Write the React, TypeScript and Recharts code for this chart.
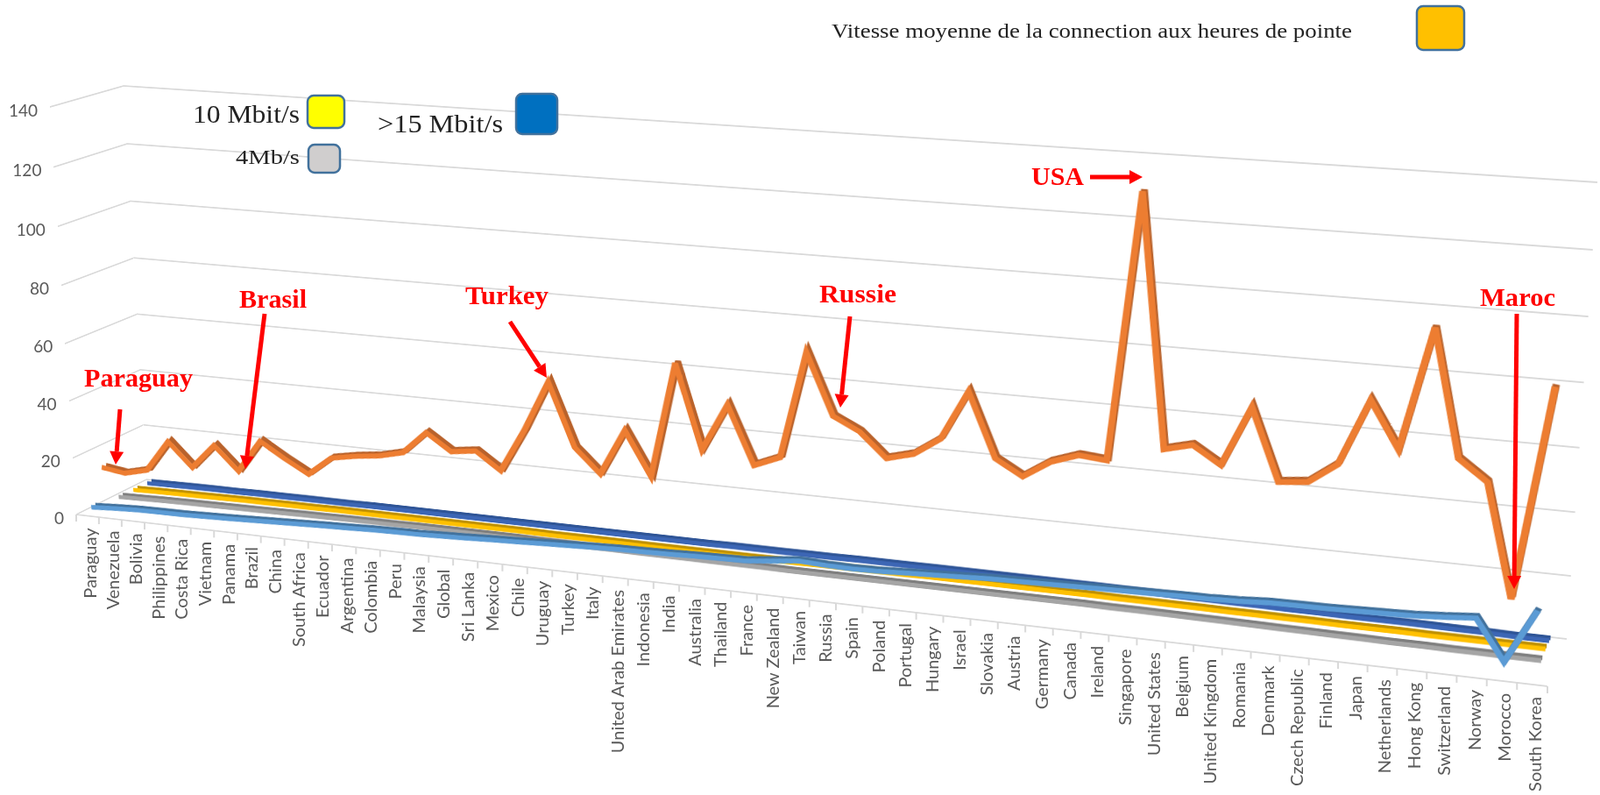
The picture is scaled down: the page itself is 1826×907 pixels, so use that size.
import { CartesianGrid, Line, LineChart, ReferenceLine, XAxis, YAxis } from "recharts";

const countries = [
  "Paraguay", "Venezuela", "Bolivia", "Philippines", "Costa Rica", "Vietnam", "Panama", "Brazil",
  "China", "South Africa", "Ecuador", "Argentina", "Colombia", "Peru", "Malaysia", "Global",
  "Sri Lanka", "Mexico", "Chile", "Uruguay", "Turkey", "Italy", "United Arab Emirates", "Indonesia",
  "India", "Australia", "Thailand", "France", "New Zealand", "Taiwan", "Russia", "Spain",
  "Poland", "Portugal", "Hungary", "Israel", "Slovakia", "Austria", "Germany", "Canada",
  "Ireland", "Singapore", "United States", "Belgium", "United Kingdom", "Romania", "Denmark", "Czech Republic",
  "Finland", "Japan", "Netherlands", "Hong Kong", "Switzerland", "Norway", "Morocco", "South Korea",
];

const peakSpeed = [
  14.3, 13.1, 15.1, 26, 17.8, 26.4, 18.3, 29.6, 24.5, 19.9, 26.4, 27.9, 28.9, 30.9, 38.6, 33,
  34.1, 28.3, 42.9, 59.8, 38.8, 30.8, 46.2, 31.7, 70, 42.4, 58, 39, 42.5, 77.4, 57.7, 53.5,
  45.7, 48, 53.8, 69.7, 49.2, 44.3, 49.9, 52.9, 52.1, 136, 57.4, 59.6, 54.2, 73, 50.7, 51.6,
  58, 78.5, 64.3, 102, 63.3, 57, 22, 87.5,
];
const avgSpeed = [
  2.3, 2.8, 3.2, 3.3, 3.4, 3.6, 3.9, 4.2, 4.5, 4.8, 5.1, 5.4, 5.7, 5.9, 6, 6.3,
  6.6, 7, 7.3, 7.7, 8, 8.4, 8.7, 8.8, 9, 9.3, 9.5, 9.7, 10.6, 11.6, 11.2, 11,
  11.2, 11.6, 12, 12.4, 12.8, 13, 13.2, 13.4, 13.6, 13.8, 14, 14.2, 14.3, 14.6, 15.2, 15.3,
  15.4, 15.6, 15.9, 16.2, 16.8, 17.6, 5, 22,
];
const above4 = [
  1.1, 1.3, 1.5, 1.6, 1.7, 1.8, 1.9, 2, 2.1, 2.2, 2.3, 2.4, 2.4, 2.5, 2.5, 2.5,
  2.5, 2.5, 2.4, 2.4, 2.3, 2.3, 2.2, 2.2, 2.2, 2.1, 2.1, 2.1, 2, 2, 2, 2,
  2, 2, 2, 2, 2, 2, 2, 2, 1.9, 1.9, 1.8, 1.7, 1.6, 1.5, 1.4, 1.3,
  1.2, 1.1, 1, 1, 0.9, 0.9, 0.8, 0.8,
];
const above10 = [
  1, 1.2, 1.3, 1.4, 1.5, 1.6, 1.6, 1.7, 1.7, 1.8, 1.8, 1.8, 1.8, 1.8, 1.8, 1.8,
  1.8, 1.8, 1.7, 1.7, 1.7, 1.7, 1.6, 1.6, 1.6, 1.6, 1.6, 1.7, 1.7, 1.8, 1.8, 1.9,
  1.9, 2, 2, 2, 2, 2, 2, 2, 1.9, 1.9, 1.8, 1.8, 1.7, 1.7, 1.6, 1.6,
  1.5, 1.5, 1.5, 1.4, 1.4, 1.4, 1.4, 1.4,
];
const above15 = [
  0.9, 1, 1.1, 1.2, 1.2, 1.3, 1.3, 1.4, 1.4, 1.4, 1.5, 1.5, 1.5, 1.5, 1.5, 1.5,
  1.5, 1.5, 1.5, 1.5, 1.5, 1.5, 1.5, 1.5, 1.5, 1.6, 1.6, 1.6, 1.7, 1.7, 1.8, 1.8,
  1.8, 1.9, 1.9, 1.9, 1.9, 1.9, 1.9, 1.9, 1.8, 1.8, 1.7, 1.7, 1.6, 1.6, 1.5, 1.5,
  1.4, 1.4, 1.4, 1.3, 1.2, 1.2, 1, 1,
];
const valueTicks = [0, 20, 40, 60, 80, 100, 120, 140];

const PAGE_W = 1826;
const PAGE_H = 907;
const W = 1680;
const H = 560;
const M = 20;
const BAND = W / countries.length;
const FONT = "Lato, 'Open Sans', sans-serif";
const SERIF = "'Liberation Serif', serif";
const GRID = "#d9d9d9";

type Pt = [number, number];
// corners: top-left, top-right, bottom-right, bottom-left
const frontWall: Pt[] = [[57, 122], [1801, 248], [1766, 783], [87, 587]];
const backWall: Pt[] = [[141, 98], [1823, 208], [1788, 729], [167, 547]];
const sideWall: Pt[] = [frontWall[0], backWall[0], backWall[3], frontWall[3]];

const plane = (d: number): Pt[] =>
  frontWall.map((p, i) => [p[0] + (backWall[i][0] - p[0]) * d, p[1] + (backWall[i][1] - p[1]) * d] as Pt);

// square to quad homography
function homography(q: Pt[]) {
  const [[x0, y0], [x1, y1], [x2, y2], [x3, y3]] = q;
  const dx1 = x1 - x2, dx2 = x3 - x2, sx = x0 - x1 + x2 - x3;
  const dy1 = y1 - y2, dy2 = y3 - y2, sy = y0 - y1 + y2 - y3;
  const den = dx1 * dy2 - dx2 * dy1;
  const g = (sx * dy2 - dx2 * sy) / den;
  const h = (dx1 * sy - sx * dy1) / den;
  return {
    a: x1 - x0 + g * x1, b: x3 - x0 + h * x3, c: x0,
    d: y1 - y0 + g * y1, e: y3 - y0 + h * y3, f: y0,
    g, h,
  };
}

function project(q: Pt[], x: number, y: number): Pt {
  const m = homography(q);
  const u = x / W, v = y / H;
  const w = m.g * u + m.h * v + 1;
  return [(m.a * u + m.b * v + m.c) / w, (m.d * u + m.e * v + m.f) / w];
}

function cssMatrix(q: Pt[]) {
  const m = homography(q);
  const vals = [m.a / W, m.d / W, 0, m.g / W, m.b / H, m.e / H, 0, m.h / H, 0, 0, 1, 0, m.c, m.f, 0, 1];
  return `matrix3d(${vals.join(",")}) translate(${-M}px, ${-M}px)`;
}

const rows = countries.map((name, i) => ({
  name,
  peak: peakSpeed[i],
  avg: avgSpeed[i],
  a4: above4[i],
  a10: above10[i],
  a15: above15[i],
}));

function Layer({ quad, children }: { quad: Pt[]; children: React.ReactNode }) {
  return (
    <div style={{ position: "absolute", left: 0, top: 0, transformOrigin: "0 0", transform: cssMatrix(quad) }}>
      <LineChart width={W + 2 * M} height={H + 2 * M} data={rows} margin={{ top: M, right: M, bottom: M, left: M }}>
        <XAxis dataKey="name" hide padding={{ left: BAND / 2, right: BAND / 2 }} interval={0} />
        <YAxis hide domain={[0, 140]} ticks={valueTicks} />
        {children}
      </LineChart>
    </div>
  );
}

// the axes need a series before they make ticks
const anchorLine = <Line dataKey="peak" stroke="none" dot={false} isAnimationActive={false} />;

function Lane({ dataKey, depth, top, side, width }: { dataKey: string; depth: number; top: string; side: string; width: number }) {
  return (
    <>
      <Layer quad={plane(depth + 0.06)}>
        <Line dataKey={dataKey} type="linear" stroke={side} strokeWidth={width} dot={false} isAnimationActive={false} />
      </Layer>
      <Layer quad={plane(depth)}>
        <Line dataKey={dataKey} type="linear" stroke={top} strokeWidth={width} dot={false} isAnimationActive={false} />
      </Layer>
    </>
  );
}

const ML = (PAGE_W - W) / 2;
const MT = 173;

function CountryTick(props: any) {
  const { x, index, payload } = props;
  const cx = x - ML;
  const [lx, ly] = project(frontWall, cx, H);
  const [t0x, t0y] = project(frontWall, cx - BAND / 2, H);
  const [t1x, t1y] = project(frontWall, cx + BAND / 2, H);
  return (
    <g>
      <line x1={t0x} y1={t0y} x2={t0x} y2={t0y + 8} stroke={GRID} strokeWidth={2} />
      {index === countries.length - 1 && <line x1={t1x} y1={t1y} x2={t1x} y2={t1y + 8} stroke={GRID} strokeWidth={2} />}
      <text
        transform={`translate(${lx + 2},${ly + 14}) rotate(-90)`}
        textAnchor="end"
        dominantBaseline="central"
        fontFamily={FONT}
        fontSize={20}
        fill="#595959"
      >
        {payload.value}
      </text>
    </g>
  );
}

function ValueTick(props: any) {
  const { y, payload } = props;
  const [px, py] = project(frontWall, 0, y - MT);
  return (
    <text x={px - 14} y={py + 3} textAnchor="end" dominantBaseline="central" fontFamily={FONT} fontSize={19} fill="#595959">
      {payload.value}
    </text>
  );
}

function Swatch({ x, y, w, h, fill }: { x: number; y: number; w: number; h: number; fill: string }) {
  return <rect x={x} y={y} width={w} height={h} rx={7} fill={fill} stroke="#41719C" strokeWidth={2.5} />;
}

function Arrow({ from, to }: { from: Pt; to: Pt }) {
  const dx = to[0] - from[0], dy = to[1] - from[1];
  const len = Math.hypot(dx, dy);
  const ux = dx / len, uy = dy / len;
  const bx = to[0] - ux * 15, by = to[1] - uy * 15;
  const head = `${to[0]},${to[1]} ${bx - uy * 8},${by + ux * 8} ${bx + uy * 8},${by - ux * 8}`;
  return (
    <g>
      <line x1={from[0]} y1={from[1]} x2={bx} y2={by} stroke="#ff0000" strokeWidth={5} />
      <polygon points={head} fill="#ff0000" />
    </g>
  );
}

const callouts: { label: string; x: number; y: number; w: number; from: Pt; to: Pt }[] = [
  { label: "Paraguay", x: 96, y: 441, w: 124, from: [137, 467], to: [132, 530] },
  { label: "Brasil", x: 273, y: 351, w: 77, from: [302, 358], to: [280, 535] },
  { label: "Turkey", x: 531, y: 347, w: 95, from: [582, 367], to: [624, 431] },
  { label: "Russie", x: 935, y: 345, w: 88, from: [970, 361], to: [959, 465] },
  { label: "USA", x: 1177, y: 211, w: 60, from: [1244, 202], to: [1304, 202] },
  { label: "Maroc", x: 1689, y: 349, w: 86, from: [1731, 358], to: [1728, 672] },
];

export default function App() {
  return (
    <div style={{ position: "absolute", left: 0, top: 0, width: PAGE_W, height: PAGE_H, overflow: "hidden", background: "#fff" }}>
      <Layer quad={sideWall}>
        <CartesianGrid vertical={false} stroke={GRID} strokeWidth={2} />
        {anchorLine}
      </Layer>
      <Layer quad={backWall}>
        <CartesianGrid vertical={false} stroke={GRID} strokeWidth={2} />
        {anchorLine}
      </Layer>
      <Layer quad={frontWall}>
        <ReferenceLine y={0} stroke={GRID} strokeWidth={2} />
        {anchorLine}
      </Layer>

      <Lane dataKey="a15" depth={0.86} top="#3c66b5" side="#2f5597" width={6} />
      <Lane dataKey="a10" depth={0.66} top="#ffc000" side="#bf9000" width={6} />
      <Lane dataKey="a4" depth={0.45} top="#a5a5a5" side="#7f7f7f" width={6} />
      <Lane dataKey="peak" depth={0.24} top="#ed7d31" side="#b9622b" width={7} />
      <Lane dataKey="avg" depth={0.06} top="#5b9bd5" side="#41719c" width={6.5} />

      <div style={{ position: "absolute", left: 0, top: 0 }}>
        <LineChart width={PAGE_W} height={PAGE_H} data={rows} margin={{ top: MT, right: ML, bottom: PAGE_H - MT - H - 1, left: ML - 1 }}>
          <XAxis
            dataKey="name"
            height={1}
            interval={0}
            padding={{ left: BAND / 2, right: BAND / 2 }}
            axisLine={false}
            tickLine={false}
            tick={CountryTick}
          />
          <YAxis width={1} domain={[0, 140]} ticks={valueTicks} axisLine={false} tickLine={false} tick={ValueTick} />
          {anchorLine}
        </LineChart>
      </div>

      <svg width={PAGE_W} height={PAGE_H} style={{ position: "absolute", left: 0, top: 0 }}>
        <text x={949} y={43} fontFamily={SERIF} fontSize={24} fill="#222" textLength={594} lengthAdjust="spacingAndGlyphs">
          Vitesse moyenne de la connection aux heures de pointe
        </text>
        <Swatch x={1617} y={7} w={54} h={50} fill="#ffc000" />
        <text x={220} y={140} fontFamily={SERIF} fontSize={30} fill="#222" textLength={122} lengthAdjust="spacingAndGlyphs">
          10 Mbit/s
        </text>
        <Swatch x={351} y={109} w={42} h={37} fill="#ffff00" />
        <text x={269} y={187} fontFamily={SERIF} fontSize={24} fill="#222" textLength={73} lengthAdjust="spacingAndGlyphs">
          4Mb/s
        </text>
        <Swatch x={352} y={165} w={36} h={32} fill="#d0cece" />
        <text x={431} y={151} fontFamily={SERIF} fontSize={30} fill="#222" textLength={143} lengthAdjust="spacingAndGlyphs">
          {">15 Mbit/s"}
        </text>
        <Swatch x={589} y={107} w={47} h={46} fill="#0070c0" />
        {callouts.map((c) => (
          <g key={c.label}>
            <text x={c.x} y={c.y} fontFamily={SERIF} fontWeight="bold" fontSize={30} fill="#ff0000" textLength={c.w} lengthAdjust="spacingAndGlyphs">
              {c.label}
            </text>
            <Arrow from={c.from} to={c.to} />
          </g>
        ))}
      </svg>
    </div>
  );
}
